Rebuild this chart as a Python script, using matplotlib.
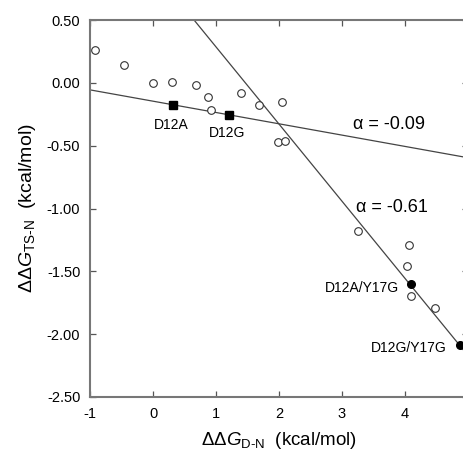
import matplotlib.pyplot as plt

plt.rcParams['font.family'] = ['Liberation Sans', 'DejaVu Sans']
plt.rcParams['mathtext.fontset'] = 'custom'
plt.rcParams['mathtext.rm'] = 'Liberation Sans'
plt.rcParams['mathtext.it'] = 'Liberation Sans:italic'

# open circles (all mutants)
open_x = [-0.92, -0.46, 0.0, 0.30, 0.69, 0.87, 0.92, 1.39, 1.68, 2.05, 1.98, 2.10,
          3.26, 4.07, 4.03, 4.09, 4.47]
open_y = [0.26, 0.14, 0.00, 0.01, -0.02, -0.11, -0.22, -0.08, -0.18, -0.15, -0.47, -0.46,
          -1.18, -1.29, -1.46, -1.70, -1.79]

# single mutants (filled squares)
single_names = ['D12A', 'D12G']
single_x = [0.31, 1.20]
single_y = [-0.18, -0.255]

# double mutants (filled circles)
double_names = ['D12A/Y17G', 'D12G/Y17G']
double_x = [4.09, 4.88]
double_y = [-1.60, -2.09]

# fitted lines: slope, intercept
fit_slopes = [-0.09, -0.614]
fit_intercepts = [-0.146, 0.90]
alpha_labels = ['\u03b1 = -0.09', '\u03b1 = -0.61']

fig = plt.figure(figsize=(4.63, 4.53), dpi=100)
ax = fig.add_axes([90 / 463, 56 / 453, 378 / 463, 377 / 453])

for m, b in zip(fit_slopes, fit_intercepts):
    ax.axline((0, b), slope=m, color='#444444', lw=0.9, zorder=1)

ax.plot(open_x, open_y, 'o', ms=5.5, mfc='white', mec='#333333', mew=0.8, zorder=3)
ax.plot(single_x, single_y, 's', ms=5.5, color='black', zorder=3)
ax.plot(double_x, double_y, 'o', ms=5.5, color='black', zorder=3, clip_on=False)

ax.text(0.29, -0.335, single_names[0], fontsize=10, ha='center', va='center')
ax.text(1.18, -0.40, single_names[1], fontsize=10, ha='center', va='center')
ax.text(3.90, -1.63, double_names[0], fontsize=10, ha='right', va='center')
ax.text(4.66, -2.11, double_names[1], fontsize=10, ha='right', va='center')

ax.text(3.18, -0.33, alpha_labels[0], fontsize=13, ha='left', va='center')
ax.text(3.22, -0.99, alpha_labels[1], fontsize=13, ha='left', va='center')

ax.set_xlim(-1, 5)
ax.set_ylim(-2.5, 0.5)
ax.set_xticks([-1, 0, 1, 2, 3, 4])
ax.set_xticklabels(['-1', '0', '1', '2', '3', '4'])
yt = [0.5, 0.0, -0.5, -1.0, -1.5, -2.0, -2.5]
ax.set_yticks(yt)
ax.set_yticklabels(['%.2f' % v for v in yt])
ax.tick_params(direction='in', length=4, width=0.9, color='#555555',
               top=True, right=True, labelsize=10.5, pad=7)

for s in ax.spines.values():
    s.set_color('#777777')
    s.set_linewidth(1.5)

ax.set_xlabel(r'$\Delta\Delta \mathit{G}_{\mathrm{D\text{-}N}}$  (kcal/mol)', fontsize=13.5, labelpad=7)
ax.set_ylabel(r'$\Delta\Delta \mathit{G}_{\mathrm{TS\text{-}N}}$  (kcal/mol)', fontsize=14, labelpad=6)

fig.savefig('out.png', dpi=100)
